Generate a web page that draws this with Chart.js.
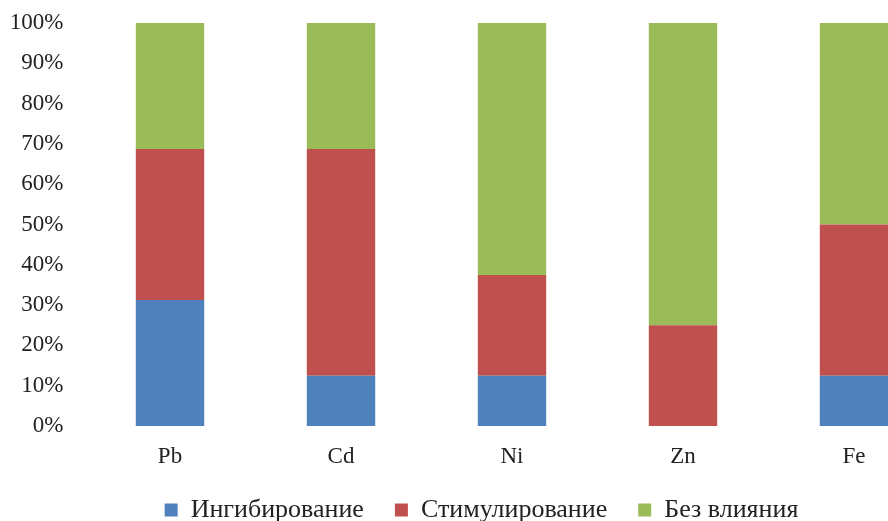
<!DOCTYPE html>
<html>
<head>
<meta charset="utf-8">
<script src="https://cdn.jsdelivr.net/npm/chart.js@4/dist/chart.umd.min.js"></script>
<style>
html,body{margin:0;padding:0;background:#fff;overflow:hidden;}
#wrap{position:relative;width:888px;height:521px;overflow:hidden;}
canvas{position:absolute;left:0;top:0;}
</style>
</head>
<body>
<div id="wrap"><canvas id="c" width="980" height="521"></canvas></div>
<script>
const categories = ['Pb', 'Cd', 'Ni', 'Zn', 'Fe'];
const inhibition = [31.25, 12.5, 12.5, 0, 12.5];
const stimulation = [37.5, 56.25, 25, 25, 37.5];
const noEffect = [31.25, 31.25, 62.5, 75, 50];
const seriesNames = ['Ингибирование', 'Стимулирование', 'Без влияния'];
const yTickValues = [0, 10, 20, 30, 40, 50, 60, 70, 80, 90, 100];

const FONT = "'Liberation Serif', 'Times New Roman', serif";

new Chart(document.getElementById('c'), {
  type: 'bar',
  data: {
    labels: categories,
    datasets: [
      { label: seriesNames[0], data: inhibition, backgroundColor: '#4F81BD' },
      { label: seriesNames[1], data: stimulation, backgroundColor: '#C0504D' },
      { label: seriesNames[2], data: noEffect, backgroundColor: '#9BBB59' }
    ]
  },
  options: {
    responsive: false,
    animation: false,
    devicePixelRatio: 1,
    categoryPercentage: 1,
    barPercentage: 0.4,
    layout: { padding: { top: 23, right: 17, left: 0, bottom: -12 } },
    plugins: {
      tooltip: { enabled: false },
      legend: {
        position: 'bottom',
        labels: {
          font: { family: FONT, size: 26 },
          color: '#222',
          boxWidth: 13,
          boxHeight: 13,
          padding: 31
        }
      }
    },
    scales: {
      x: {
        stacked: true,
        grid: { display: false, drawTicks: false },
        border: { display: false },
        afterFit: (s) => { s.height = 40; s.paddingLeft = 0; s.paddingRight = 0; },
        ticks: { font: { family: FONT, size: 23 }, color: '#222', padding: 17 }
      },
      y: {
        stacked: true,
        min: 0,
        max: 100,
        afterBuildTicks: (s) => { s.ticks = yTickValues.map(v => ({ value: v })); },
        afterFit: (s) => { s.width = 84.5; s.paddingTop = 0; s.paddingBottom = 0; },
        grid: { display: false, drawTicks: false },
        border: { display: false },
        ticks: {
          font: { family: FONT, size: 23 },
          color: '#222',
          padding: 21,
          callback: (v) => v + '%'
        }
      },
      yRight: {
        position: 'right',
        min: 0,
        max: 100,
        grid: { display: false, drawTicks: false },
        border: { display: false },
        ticks: { display: false },
        afterFit: (s) => { s.width = 23.5; s.paddingTop = 0; s.paddingBottom = 0; }
      }
    }
  }
});
</script>
</body>
</html>
